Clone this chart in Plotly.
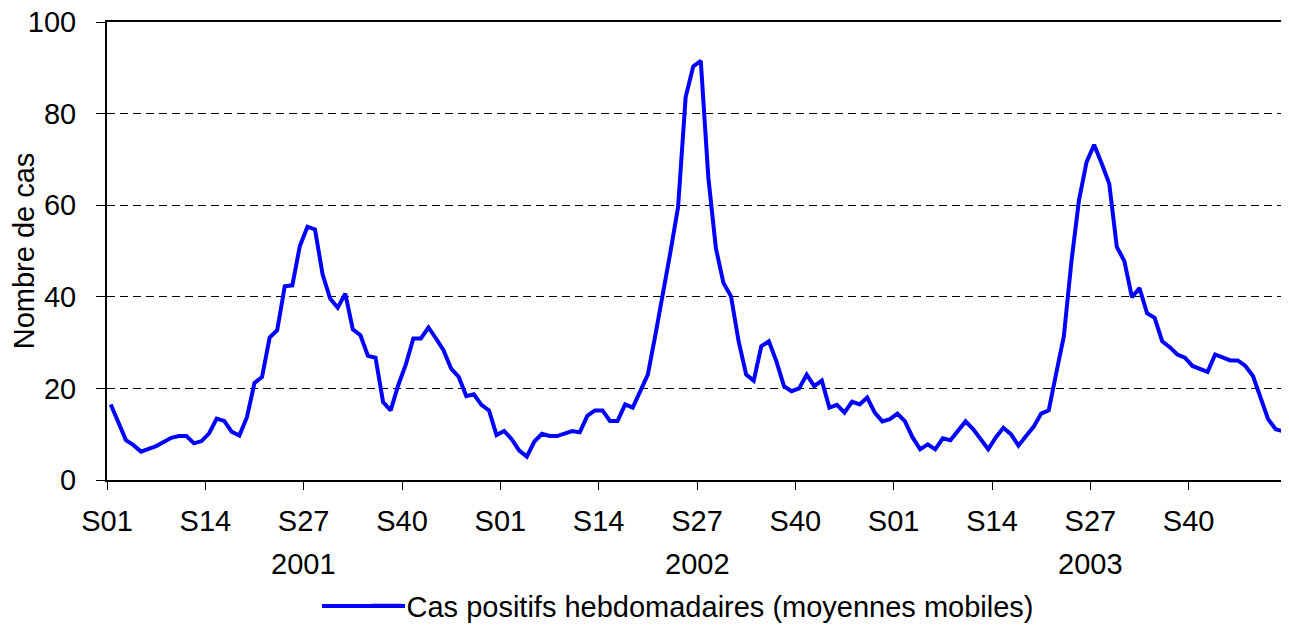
import numpy as np
import plotly.graph_objects as go

years = ["2001", "2002", "2003"]
week_ticks = ["S01", "S14", "S27", "S40"]
tick_weeks = [1, 14, 27, 40]
series_name = "Cas positifs hebdomadaires (moyennes mobiles)"

cases_2001 = [16.5, 12.5, 8.7, 7.6, 6.2, 6.8, 7.4, 8.3, 9.2, 9.6, 9.6, 8.0, 8.5, 10.2,
              13.4, 12.9, 10.5, 9.7, 13.7, 21.2, 22.5, 31.1, 32.7, 42.3, 42.5, 51.1,
              55.3, 54.7, 44.9, 39.6, 37.6, 40.7, 32.9, 31.6, 27.1, 26.7, 17.0, 15.2,
              20.7, 25.2, 30.9, 30.9, 33.3, 30.9, 28.3, 24.3, 22.5, 18.3, 18.7, 16.4,
              15.2, 9.8]
cases_2002 = [10.7, 8.9, 6.4, 5.1, 8.4, 10.1, 9.6, 9.6, 10.1, 10.7, 10.4, 14.0, 15.2,
              15.2, 12.9, 12.9, 16.5, 15.8, 19.4, 23.0, 31.7, 40.4, 49.9, 59.6, 83.6,
              90.3, 91.5, 66.0, 50.6, 43.0, 40.1, 30.3, 23.0, 21.7, 29.2, 30.3, 25.9,
              20.5, 19.4, 20.0, 23.0, 20.5, 21.7, 15.8, 16.4, 14.7, 17.1, 16.5, 18.0,
              14.7, 12.8, 13.3]
cases_2003 = [14.5, 12.8, 9.3, 6.7, 7.8, 6.7, 9.1, 8.7, 10.9, 12.8, 11.1, 8.9, 6.7,
              9.3, 11.4, 10.0, 7.5, 9.6, 11.6, 14.5, 15.2, 23.4, 31.4, 47.7, 61.1,
              69.4, 73.2, 69.1, 64.7, 50.9, 47.8, 39.9, 41.9, 36.4, 35.4, 30.3, 29.0,
              27.4, 26.7, 24.9, 24.3, 23.6, 27.4, 26.8, 26.1, 26.1, 24.9, 22.7, 18.0,
              13.3, 11.1, 10.6]

all_cases = cases_2001 + cases_2002 + cases_2003
weeks_per_year = len(cases_2001)
n = len(all_cases)
# category centres (Excel "between tick marks")
x = np.arange(n) + 0.5

FONT = "Liberation Sans, Arial, sans-serif"
FS = 29
BODY = 8  # default page margin of the html body
W, H = 1289 - BODY, 626 - BODY
PL, PR, PT, PB = 107, 1287, 22, 480  # target plot area in page pixels
PW, PH = PR - PL, PB - PT


def px_x(p):
    return (p - PL) / PW


def px_y(p):
    return (PB - p) / PH


tickvals, ticktext = [], []
for y_i in range(len(years)):
    for w, lab in zip(tick_weeks, week_ticks):
        tickvals.append(y_i * weeks_per_year + (w - 1))
        ticktext.append(lab)
tickvals.append(n)
ticktext.append("")

fig = go.Figure()
fig.add_trace(go.Scatter(
    x=x, y=all_cases, mode="lines", name=series_name,
    line=dict(color="#0000FF", width=4),
))

fig.update_layout(
    width=W, height=H,
    margin=dict(l=PL - BODY, r=W + BODY - PR, t=PT - BODY, b=H + BODY - PB,
                autoexpand=False),
    paper_bgcolor="white", plot_bgcolor="white",
    font=dict(family=FONT, size=FS, color="black"),
    showlegend=True,
    legend=dict(orientation="h", x=0.5 + 6 / PW, xanchor="center",
                y=px_y(606), yanchor="middle",
                font=dict(size=FS), bgcolor="rgba(0,0,0,0)"),
)
fig.update_xaxes(
    range=[0, n], tickmode="array", tickvals=tickvals, ticktext=ticktext,
    showgrid=False, zeroline=False, automargin=False, ticklabeloverflow="allow",
    showline=True, linecolor="black", linewidth=2, mirror=True,
    ticks="outside", ticklen=8, tickcolor="black", tickwidth=1,
    tickfont=dict(size=FS), ticklabelstandoff=6,
)
fig.update_yaxes(
    range=[0, 100], dtick=20, tick0=0, automargin=False, ticklabeloverflow="allow",
    showgrid=True, gridcolor="black", gridwidth=1, griddash="8px,5px",
    zeroline=False,
    showline=True, linecolor="black", linewidth=2, mirror=True,
    ticks="outside", ticklen=9, tickcolor="black", tickwidth=1,
    tickfont=dict(size=FS), ticklabelstandoff=14,
    title=dict(text="Nombre de cas", font=dict(size=FS), standoff=2),
)

for y_i, yr in enumerate(years):
    fig.add_annotation(
        x=y_i * weeks_per_year + weeks_per_year / 2, xref="x",
        y=px_y(563.5), yref="paper", text=yr, showarrow=False,
        font=dict(size=FS), xanchor="center", yanchor="middle",
    )

# longer legend swatch, as in the original
fig.add_shape(type="line", xref="paper", yref="paper",
              x0=px_x(322), x1=px_x(405), y0=px_y(606), y1=px_y(606),
              line=dict(color="#0000FF", width=4), layer="above")

fig.write_html("out.html")
